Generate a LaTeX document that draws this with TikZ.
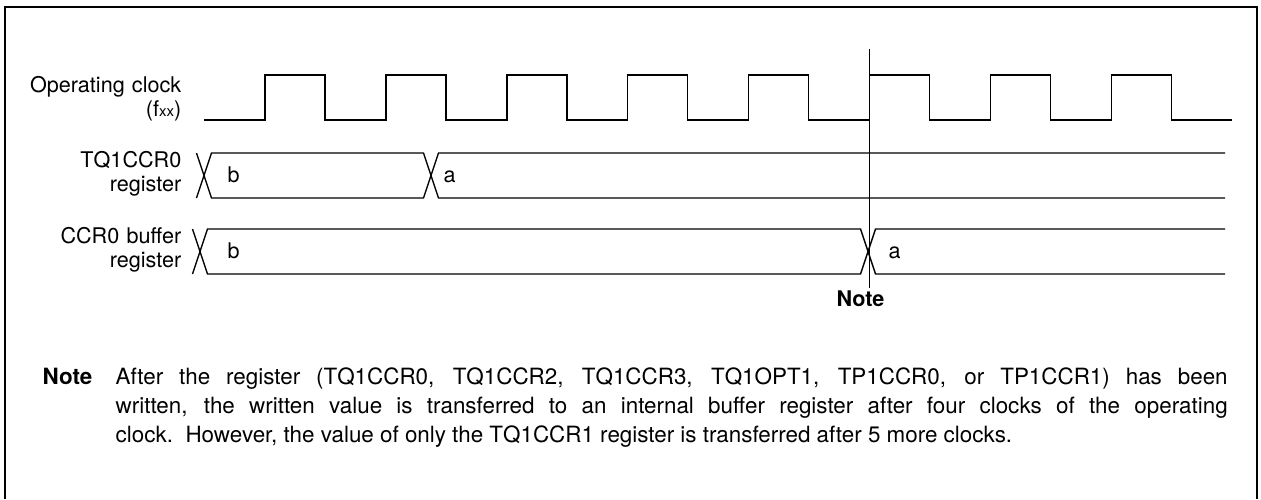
\documentclass[tikz,border=0pt]{standalone}
\usepackage{fontspec}
\setmainfont{TeX Gyre Heros}
\begin{document}
\begin{tikzpicture}[x=0.5pt, y=-0.5pt, line width=0.7pt,
  lbl/.style={anchor=base east, text width=90pt, align=right, inner sep=0pt, font=\fontsize{10.8}{12}\selectfont},
  val/.style={anchor=base west, inner sep=0pt, font=\fontsize{10.8}{12}\selectfont}]
  \useasboundingbox (0,0) rectangle (1261,499);
  \draw[line width=1.3pt] (5,499) -- (5,7) -- (1257,7) -- (1257,499);
  % signal names
  \node[lbl] (clkname) at (182,92) {Operating clock\\(f{\fontsize{7.5}{9}\selectfont xx})};
  \node[lbl] (ccrname) at (182,167) {TQ1CCR0\\register};
  \node[lbl] (bufname) at (182,243) {CCR0 buffer\\register};
  % operating clock
  \draw (204,120) \foreach \i in {0,...,7} {
    -- ({265+120.9*\i},120) -- ({265+120.9*\i},75) -- ({325+120.9*\i},75) -- ({325+120.9*\i},120)}
    -- (1232,120);
  % TQ1CCR0 register
  \draw (196.5,153) -- (211.5,198) -- (423.5,198) -- (438.5,153) -- (1225,153);
  \draw (196.5,198) -- (211.5,153) -- (423.5,153) -- (438.5,198) -- (1225,198);
  \node[val] (ccrb) at (227,182) {b};
  \node[val] (ccra) at (443,182) {a};
  % CCR0 buffer register
  \draw (192.5,229) -- (207.5,274) -- (860.5,274) -- (875.5,229) -- (1225,229);
  \draw (192.5,274) -- (207.5,229) -- (860.5,229) -- (875.5,274) -- (1225,274);
  \node[val] (bufb) at (227,258) {b};
  \node[val] (bufa) at (888,258) {a};
  % transfer timing
  \coordinate (marktop) at (869,49);
  \node[anchor=base, inner sep=0pt, font=\fontsize{10.8}{12}\selectfont\bfseries] (marknote) at (860.5,306) {Note};
  \draw[line width=0.3pt] (marktop) -- (marktop |- 0,288);
  % note text
  \node[anchor=base west, inner sep=0pt, font=\fontsize{11.2}{14.5}\selectfont\bfseries] (notehead) at (42,384) {Note};
  \node[anchor=base west, inner sep=0pt, text width=556pt, align=justify,
    font=\fontsize{11.2}{14.5}\selectfont] (notetext) at (115,384)
    {After the register (TQ1CCR0, TQ1CCR2, TQ1CCR3, TQ1OPT1, TP1CCR0, or TP1CCR1) has been\linebreak
    written, the written value is transferred to an internal buffer register after four clocks of the operating\linebreak
    clock.\ \ However, the value of only the TQ1CCR1 register is transferred after 5 more clocks.};
\end{tikzpicture}
\end{document}
